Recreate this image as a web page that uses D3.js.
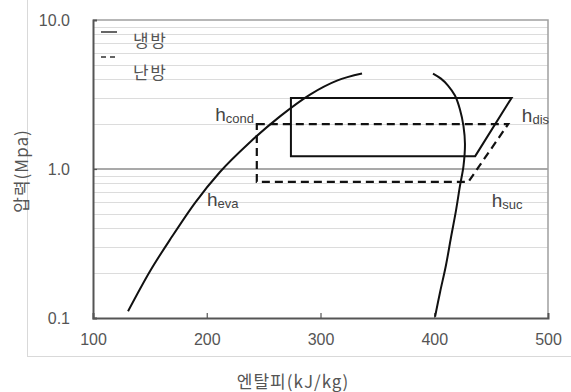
<!DOCTYPE html>
<html><head><meta charset="utf-8">
<script src="https://cdn.jsdelivr.net/npm/d3@7"></script>
<style>body{margin:0;background:#fff}svg{display:block}</style>
</head><body>
<svg id="c" width="571" height="392"></svg>
<script>
// Data
const xTicks = [100, 200, 300, 400, 500];
const yTicks = [0.1, 1.0, 10.0];
const yTickLabels = ["0.1", "1.0", "10.0"];
const legendLabels = ["냉방", "난방"];
// saturated liquid line (h, p)
const liquidH = [130.8, 150.1, 169.5, 189.7, 211.6, 238.0, 264.4, 290.8, 314.5, 336.5];
const liquidP = [0.111, 0.206, 0.352, 0.593, 0.955, 1.514, 2.256, 3.16, 3.92, 4.37];
// saturated vapour line (h, p)
const vaporH = [398.9, 405.9, 412.1, 418.2, 422.6, 425.7, 427.0, 425.7, 422.6, 419.1, 414.7, 410.3, 405.1, 400.7];
const vaporP = [4.37, 4.04, 3.63, 3.11, 2.51, 1.94, 1.47, 1.047, 0.77, 0.525, 0.347, 0.226, 0.149, 0.102];
// cooling cycle (solid)
const coolH = [274, 468, 436, 274];
const coolP = [3.0, 3.0, 1.22, 1.22];
// heating cycle (dashed)
const heatH = [244, 465, 430, 244];
const heatP = [2.0, 2.0, 0.82, 0.82];
// point labels
const ptLabels = [
  {sub: "cond", h: 207.5, p: 2.1},
  {sub: "eva", h: 200.2, p: 0.565},
  {sub: "dis", h: 477, p: 2.07},
  {sub: "suc", h: 450.5, p: 0.556}
];

const svg = d3.select("#c");
const x = d3.scaleLinear().domain([100, 500]).range([93, 548]);
const y = d3.scaleLog().domain([0.1, 10]).range([318, 20]);

// outer chart border
svg.append("rect").attr("x", 27.5).attr("y", -2).attr("width", 560).attr("height", 358.5)
  .attr("fill", "none").attr("stroke", "#d9d9d9").attr("stroke-width", 1);

// minor grid lines
const minor = [];
[0.1, 1].forEach(d => { for (let k = 2; k <= 9; k++) minor.push(d * k); });
svg.append("g").selectAll("line").data(minor).join("line")
  .attr("x1", x(100)).attr("x2", x(500))
  .attr("y1", d => Math.round(y(d)) + 0.5).attr("y2", d => Math.round(y(d)) + 0.5)
  .attr("stroke", "#dcdcdc").attr("stroke-width", 1.2);

// 1.0 line
svg.append("line").attr("x1", x(100)).attr("x2", x(500))
  .attr("y1", y(1)).attr("y2", y(1)).attr("stroke", "#8c8c8c").attr("stroke-width", 1.5);

// frame top/right
svg.append("path").attr("d", `M${x(100)},${y(10)}H${x(500)}V${y(0.1)}`)
  .attr("fill", "none").attr("stroke", "#a0a0a0").attr("stroke-width", 1.5);

// axes
const xAxis = d3.axisBottom(x).tickValues(xTicks).tickSize(-5).tickPadding(16).tickFormat(d3.format("d"));
const gx = svg.append("g").attr("transform", `translate(0,${y(0.1)})`).call(xAxis);
const yAxis = d3.axisLeft(y).tickValues(yTicks).tickSize(-4).tickPadding(23)
  .tickFormat((d, i) => yTickLabels[i]);
const gy = svg.append("g").attr("transform", `translate(${x(100)},0)`).call(yAxis);
[gx, gy].forEach(g => {
  g.select(".domain").attr("stroke", "#555").attr("stroke-width", 2);
  g.selectAll(".tick line").attr("stroke", "#555").attr("stroke-width", 1.2);
  g.selectAll(".tick text").attr("fill", "#555").style("font-family", "Liberation Sans, Arial, sans-serif").style("font-size", "16px");
});
gx.selectAll(".tick text").attr("dy", "0.71em");
gy.selectAll(".tick line").filter(d => d === 10 || d === 0.1).remove();
gx.selectAll(".tick line").filter(d => d === 100 || d === 500).remove();

// curves
const lineX = d3.line().x(d => x(d[0])).y(d => y(d[1])).curve(d3.curveMonotoneX);
const lineC = d3.line().x(d => x(d[0])).y(d => y(d[1])).curve(d3.curveCatmullRom.alpha(0.5));
svg.append("path").datum(liquidH.map((h, i) => [h, liquidP[i]])).attr("d", lineX)
  .attr("fill", "none").attr("stroke", "#111").attr("stroke-width", 2);
svg.append("path").datum(vaporH.map((h, i) => [h, vaporP[i]])).attr("d", lineC)
  .attr("fill", "none").attr("stroke", "#111").attr("stroke-width", 2);

const poly = d3.line().x(d => x(d[0])).y(d => y(d[1])).curve(d3.curveLinearClosed);
svg.append("path").datum(coolH.map((h, i) => [h, coolP[i]])).attr("d", poly)
  .attr("fill", "none").attr("stroke", "#111").attr("stroke-width", 2);
svg.append("path").datum(heatH.map((h, i) => [h, heatP[i]])).attr("d", poly)
  .attr("fill", "none").attr("stroke", "#111").attr("stroke-width", 2.2).attr("stroke-dasharray", "8,5");

// legend
const lg = svg.append("g");
lg.append("line").attr("x1", 101).attr("x2", 117).attr("y1", 32).attr("y2", 32).attr("stroke", "#333").attr("stroke-width", 1.5);
lg.append("line").attr("x1", 101).attr("x2", 117).attr("y1", 57).attr("y2", 57).attr("stroke", "#333").attr("stroke-width", 1.5).attr("stroke-dasharray", "5,4");
lg.selectAll("text").data(legendLabels).join("text")
  .attr("x", 133).attr("y", (d, i) => 47 + i * 32)
  .attr("fill", "#555").style("font-family", "Noto Sans CJK KR").style("font-size", "17px").style("letter-spacing", "1.5px").text(d => d);

// point labels
const pl = svg.append("g").selectAll("text").data(ptLabels).join("text")
  .attr("x", d => x(d.h)).attr("y", d => y(d.p))
  .attr("fill", "#444").style("font-family", "Liberation Sans, Arial, sans-serif").style("font-size", "19px");
pl.append("tspan").text("h");
pl.append("tspan").attr("dy", 2).style("font-size", "13px").text(d => d.sub);

// axis titles
svg.append("text").attr("x", 293).attr("y", 388).attr("text-anchor", "middle")
  .attr("fill", "#555").style("font-family", "Noto Sans CJK KR").style("font-size", "17px").style("letter-spacing", "1px").text("엔탈피(kJ/kg)");
svg.append("text").attr("transform", "translate(28,171) rotate(-90)").attr("text-anchor", "middle")
  .attr("fill", "#555").style("font-family", "Noto Sans CJK KR").style("font-size", "17px").style("letter-spacing", "1px").text("압력(Mpa)");
</script>
</body></html>
